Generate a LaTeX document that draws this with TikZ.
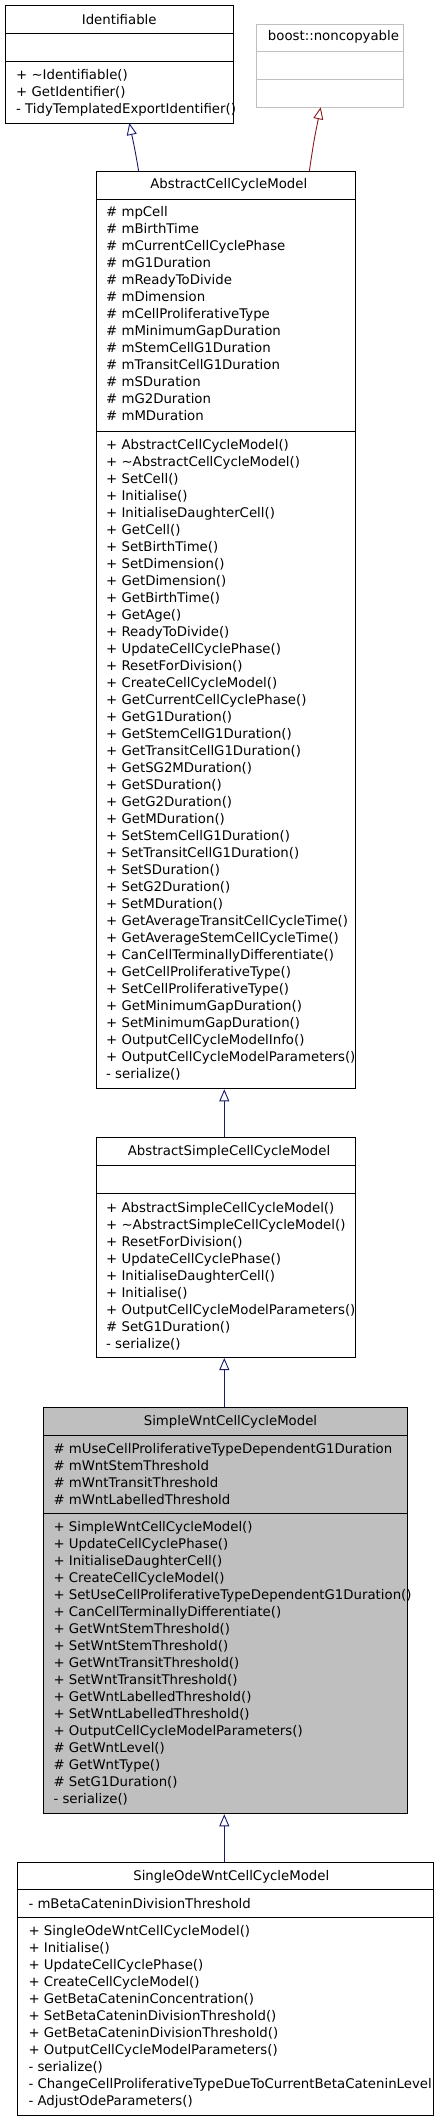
\documentclass[tikz,border=0pt]{standalone}
\usepackage{fontspec}
\setmainfont{DejaVu Sans}
\usetikzlibrary{arrows.meta}
\definecolor{inhblue}{HTML}{191970}
\definecolor{inhred}{HTML}{8B1A1A}
\definecolor{boxgray}{HTML}{BFBFBF}
\tikzset{
  x=1pt, y=-1pt,
  umlbox/.style={draw=black, line width=1pt},
  extbox/.style={draw=boxgray, line width=1pt},
  sepline/.style={line width=1pt},
  txt/.style={anchor=north west, inner sep=0pt, align=left,
    font=\fontsize{13.3}{17}\selectfont},
  ttl/.style={anchor=base, inner sep=0pt, font=\fontsize{13.3}{17}\selectfont},
  inh/.style={draw=inhblue, line width=0.9pt, -{Triangle[open,length=12pt,width=10pt]}},
  inhr/.style={draw=inhred, line width=0.9pt, -{Triangle[open,length=12pt,width=10pt]}},
}
\newcommand{\umlln}[1]{\strut #1}
\begin{document}
\begin{tikzpicture}
\useasboundingbox (0,0) rectangle (436,2120);
\fill[white] (0,0) rectangle (436,2120);

% Identifiable
\node[umlbox, minimum width=227.7pt, minimum height=117.7pt, anchor=north west, inner sep=0pt] (ident) at (5.3,5.3) {};
\draw[sepline] (5.3,33.3) -- (233,33.3);
\draw[sepline] (5.3,61.3) -- (233,61.3);
\node[ttl] (identT) at (119.2,24) {Identifiable};
\node[txt] (identM) at (16,79.2-11.9) {\umlln{+ \textasciitilde Identifiable()}\\\umlln{+ GetIdentifier()}\\\umlln{- TidyTemplatedExportIdentifier()}};

% boost::noncopyable
\node[extbox, minimum width=147pt, minimum height=83.6pt, anchor=north west, inner sep=0pt] (boost) at (256.3,23.7) {};
\draw[draw=boxgray, line width=1pt] (256.3,51.7) -- (403.3,51.7);
\draw[draw=boxgray, line width=1pt] (256.3,79.7) -- (403.3,79.7);
\node[ttl] (boostT) at (333.5,40.8) {boost::noncopyable};

% AbstractCellCycleModel
\node[umlbox, minimum width=259.6pt, minimum height=917pt, anchor=north west, inner sep=0pt] (accm) at (95.7,171.3) {};
\draw[sepline] (95.7,199.3) -- (355.3,199.3);
\draw[sepline] (95.7,431) -- (355.3,431);
\node[ttl] (accmT) at (228.8,188.8) {AbstractCellCycleModel};
\node[txt] (accmA) at (106,216.2-11.9) {\umlln{\# mpCell}\\\umlln{\# mBirthTime}\\\umlln{\# mCurrentCellCyclePhase}\\\umlln{\# mG1Duration}\\\umlln{\# mReadyToDivide}\\\umlln{\# mDimension}\\\umlln{\# mCellProliferativeType}\\\umlln{\# mMinimumGapDuration}\\\umlln{\# mStemCellG1Duration}\\\umlln{\# mTransitCellG1Duration}\\\umlln{\# mSDuration}\\\umlln{\# mG2Duration}\\\umlln{\# mMDuration}};
\node[txt] (accmM) at (106,448.8-11.9) {\umlln{+ AbstractCellCycleModel()}\\\umlln{+ \textasciitilde AbstractCellCycleModel()}\\\umlln{+ SetCell()}\\\umlln{+ Initialise()}\\\umlln{+ InitialiseDaughterCell()}\\\umlln{+ GetCell()}\\\umlln{+ SetBirthTime()}\\\umlln{+ SetDimension()}\\\umlln{+ GetDimension()}\\\umlln{+ GetBirthTime()}\\\umlln{+ GetAge()}\\\umlln{+ ReadyToDivide()}\\\umlln{+ UpdateCellCyclePhase()}\\\umlln{+ ResetForDivision()}\\\umlln{+ CreateCellCycleModel()}\\\umlln{+ GetCurrentCellCyclePhase()}\\\umlln{+ GetG1Duration()}\\\umlln{+ GetStemCellG1Duration()}\\\umlln{+ GetTransitCellG1Duration()}\\\umlln{+ GetSG2MDuration()}\\\umlln{+ GetSDuration()}\\\umlln{+ GetG2Duration()}\\\umlln{+ GetMDuration()}\\\umlln{+ SetStemCellG1Duration()}\\\umlln{+ SetTransitCellG1Duration()}\\\umlln{+ SetSDuration()}\\\umlln{+ SetG2Duration()}\\\umlln{+ SetMDuration()}\\\umlln{+ GetAverageTransitCellCycleTime()}\\\umlln{+ GetAverageStemCellCycleTime()}\\\umlln{+ CanCellTerminallyDifferentiate()}\\\umlln{+ GetCellProliferativeType()}\\\umlln{+ SetCellProliferativeType()}\\\umlln{+ GetMinimumGapDuration()}\\\umlln{+ SetMinimumGapDuration()}\\\umlln{+ OutputCellCycleModelInfo()}\\\umlln{+ OutputCellCycleModelParameters()}\\\umlln{- serialize()}};

% AbstractSimpleCellCycleModel
\node[umlbox, minimum width=259.6pt, minimum height=219.7pt, anchor=north west, inner sep=0pt] (ascc) at (95.7,1137.3) {};
\draw[sepline] (95.7,1165.3) -- (355.3,1165.3);
\draw[sepline] (95.7,1193.7) -- (355.3,1193.7);
\node[ttl] (asccT) at (229,1155.8) {AbstractSimpleCellCycleModel};
\node[txt] (asccM) at (106,1212.2-11.9) {\umlln{+ AbstractSimpleCellCycleModel()}\\\umlln{+ \textasciitilde AbstractSimpleCellCycleModel()}\\\umlln{+ ResetForDivision()}\\\umlln{+ UpdateCellCyclePhase()}\\\umlln{+ InitialiseDaughterCell()}\\\umlln{+ Initialise()}\\\umlln{+ OutputCellCycleModelParameters()}\\\umlln{\# SetG1Duration()}\\\umlln{- serialize()}};

% SimpleWntCellCycleModel
\node[umlbox, fill=boxgray, minimum width=364pt, minimum height=406pt, anchor=north west, inner sep=0pt] (swcc) at (43.3,1407.3) {};
\draw[sepline] (43.3,1435.3) -- (407.3,1435.3);
\draw[sepline] (43.3,1513.3) -- (407.3,1513.3);
\node[ttl] (swccT) at (230.5,1425.2) {SimpleWntCellCycleModel};
\node[txt] (swccA) at (53.3,1452.8-11.9) {\umlln{\# mUseCellProliferativeTypeDependentG1Duration}\\\umlln{\# mWntStemThreshold}\\\umlln{\# mWntTransitThreshold}\\\umlln{\# mWntLabelledThreshold}};
\node[txt] (swccM) at (53.3,1531.5-11.9) {\umlln{+ SimpleWntCellCycleModel()}\\\umlln{+ UpdateCellCyclePhase()}\\\umlln{+ InitialiseDaughterCell()}\\\umlln{+ CreateCellCycleModel()}\\\umlln{+ SetUseCellProliferativeTypeDependentG1Duration()}\\\umlln{+ CanCellTerminallyDifferentiate()}\\\umlln{+ GetWntStemThreshold()}\\\umlln{+ SetWntStemThreshold()}\\\umlln{+ GetWntTransitThreshold()}\\\umlln{+ SetWntTransitThreshold()}\\\umlln{+ GetWntLabelledThreshold()}\\\umlln{+ SetWntLabelledThreshold()}\\\umlln{+ OutputCellCycleModelParameters()}\\\umlln{\# GetWntLevel()}\\\umlln{\# GetWntType()}\\\umlln{\# SetG1Duration()}\\\umlln{- serialize()}};

% SingleOdeWntCellCycleModel
\node[umlbox, minimum width=415.4pt, minimum height=253.6pt, anchor=north west, inner sep=0pt] (sowc) at (17.3,1861.7) {};
\draw[sepline] (17.3,1889.3) -- (432.7,1889.3);
\draw[sepline] (17.3,1917.3) -- (432.7,1917.3);
\node[ttl] (sowcT) at (231.3,1880.2) {SingleOdeWntCellCycleModel};
\node[txt] (sowcA) at (28.3,1907.8-11.9) {\umlln{- mBetaCateninDivisionThreshold}};
\node[txt] (sowcM) at (28.3,1934.8-11.9) {\umlln{+ SingleOdeWntCellCycleModel()}\\\umlln{+ Initialise()}\\\umlln{+ UpdateCellCyclePhase()}\\\umlln{+ CreateCellCycleModel()}\\\umlln{+ GetBetaCateninConcentration()}\\\umlln{+ SetBetaCateninDivisionThreshold()}\\\umlln{+ GetBetaCateninDivisionThreshold()}\\\umlln{+ OutputCellCycleModelParameters()}\\\umlln{- serialize()}\\\umlln{- ChangeCellProliferativeTypeDueToCurrentBetaCateninLevel}\\\umlln{- AdjustOdeParameters()}};

% Inheritance connectors
\coordinate (a1s) at (138.7,171.3);
\coordinate (a1e) at (129.3,123);
\coordinate (a2s) at (309.3,171.3);
\coordinate (a2e) at (320.7,107.3);
\draw[inh] (a1s) .. controls (135,150) .. (a1e);
\draw[inhr] (a2s) .. controls (314,140) .. (a2e);
\draw[inh] (ascc.north -| 224.3,0) -- (accm.south -| 224.3,0);
\draw[inh] (swcc.north -| 224.3,0) -- (ascc.south -| 224.3,0);
\draw[inh] (sowc.north -| 224.3,0) -- (swcc.south -| 224.3,0);
\end{tikzpicture}
\end{document}
